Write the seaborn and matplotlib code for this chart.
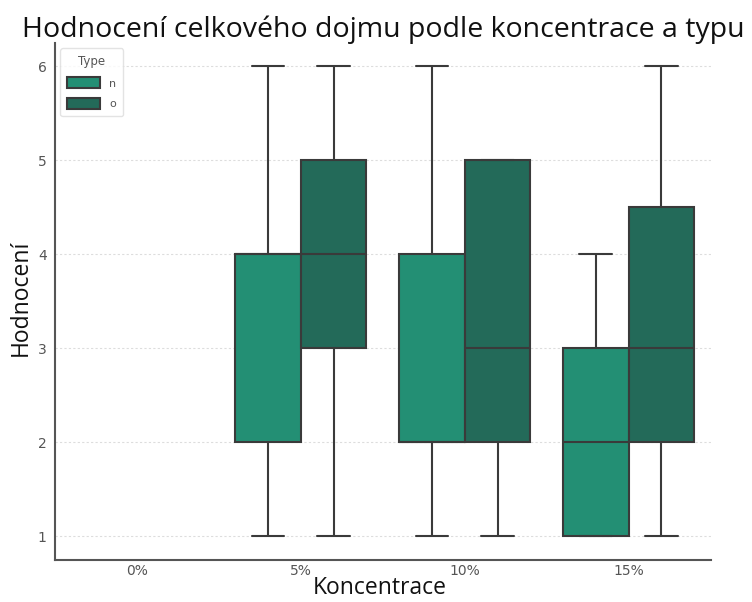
import matplotlib
matplotlib.use("Agg")
import matplotlib.pyplot as plt
import seaborn as sns
import pandas as pd

# Ratings (1-6) per concentration and type
concentrations = ["0%", "5%", "10%", "15%"]
types = ["n", "o"]
ratings_5_n = [1, 2, 2, 4, 4, 4, 4, 6]
ratings_5_o = [1, 3, 3, 4, 4, 5, 5, 6]
ratings_10_n = [1, 2, 2, 2, 2, 4, 4, 6]
ratings_10_o = [1, 2, 2, 3, 3, 5, 5, 5]
ratings_15_n = [1, 1, 1, 2, 2, 3, 3, 4]
ratings_15_o = [1, 2, 2, 3, 4, 5, 6]
y_ticks = [1, 2, 3, 4, 5, 6]

groups = [
    ("5%", "n", ratings_5_n), ("5%", "o", ratings_5_o),
    ("10%", "n", ratings_10_n), ("10%", "o", ratings_10_o),
    ("15%", "n", ratings_15_n), ("15%", "o", ratings_15_o),
]
rows = [(c, t, v) for c, t, vals in groups for v in vals]
df = pd.DataFrame(rows, columns=["Koncentrace", "Type", "Hodnocení"])

sns.set_theme(style="white")
plt.rcParams["font.family"] = ["DejaVu Sans"]

fig = plt.figure(figsize=(7.52, 6.02), dpi=100)
ax = fig.add_axes([0.073, 0.070, 0.872, 0.859])

palette = {"n": "#238f74", "o": "#236a59"}
sns.boxplot(
    data=df, x="Koncentrace", y="Hodnocení", hue="Type",
    order=concentrations, hue_order=types, palette=palette,
    saturation=1, width=0.8, linewidth=1.5, linecolor="#3a3a3a",
    ax=ax,
)

ax.set_ylim(0.75, 6.25)
ax.set_xlim(-0.5, 3.5)
ax.set_yticks(y_ticks)
ax.yaxis.grid(True, linestyle=(0, (2, 2)), color="#dddddd", linewidth=0.8)
ax.set_axisbelow(True)
sns.despine(ax=ax)
for s in ("left", "bottom"):
    ax.spines[s].set_color("#555555")
    ax.spines[s].set_linewidth(1.5)
ax.tick_params(axis="y", direction="out", length=3, pad=3, colors="#555555", labelsize=10, labelcolor="#555555")
ax.tick_params(axis="x", direction="in", length=4, pad=3, colors="#999999", labelsize=10, labelcolor="#555555")

label_font = ["Open Sans", "DejaVu Sans"]
ax.set_xlabel("")
ax.set_ylabel("")
fig.text(0.505, 0.003, "Koncentrace", ha="center", va="bottom",
         family=label_font, fontsize=16.5, color="#111111")
fig.text(0.028, 0.505, "Hodnocení", ha="center", va="center", rotation=90,
         family=label_font, fontsize=16.5, color="#111111")

leg = ax.legend(title="Type", loc="upper left", fontsize=8, title_fontsize=8.5,
                frameon=True, borderpad=0.6, handlelength=3.0, handleheight=1.1,
                labelspacing=0.85, bbox_to_anchor=(0.0, 1.0))
leg.get_frame().set_edgecolor("#dddddd")
leg.get_title().set_color("#555555")
for t in leg.get_texts():
    t.set_color("#555555")

fig.text(0.51, 0.975, "Hodnocení celkového dojmu podle koncentrace a typu",
         ha="center", va="top", fontsize=20.5, family=label_font, color="#111111")

fig.savefig("out.png", dpi=100)
